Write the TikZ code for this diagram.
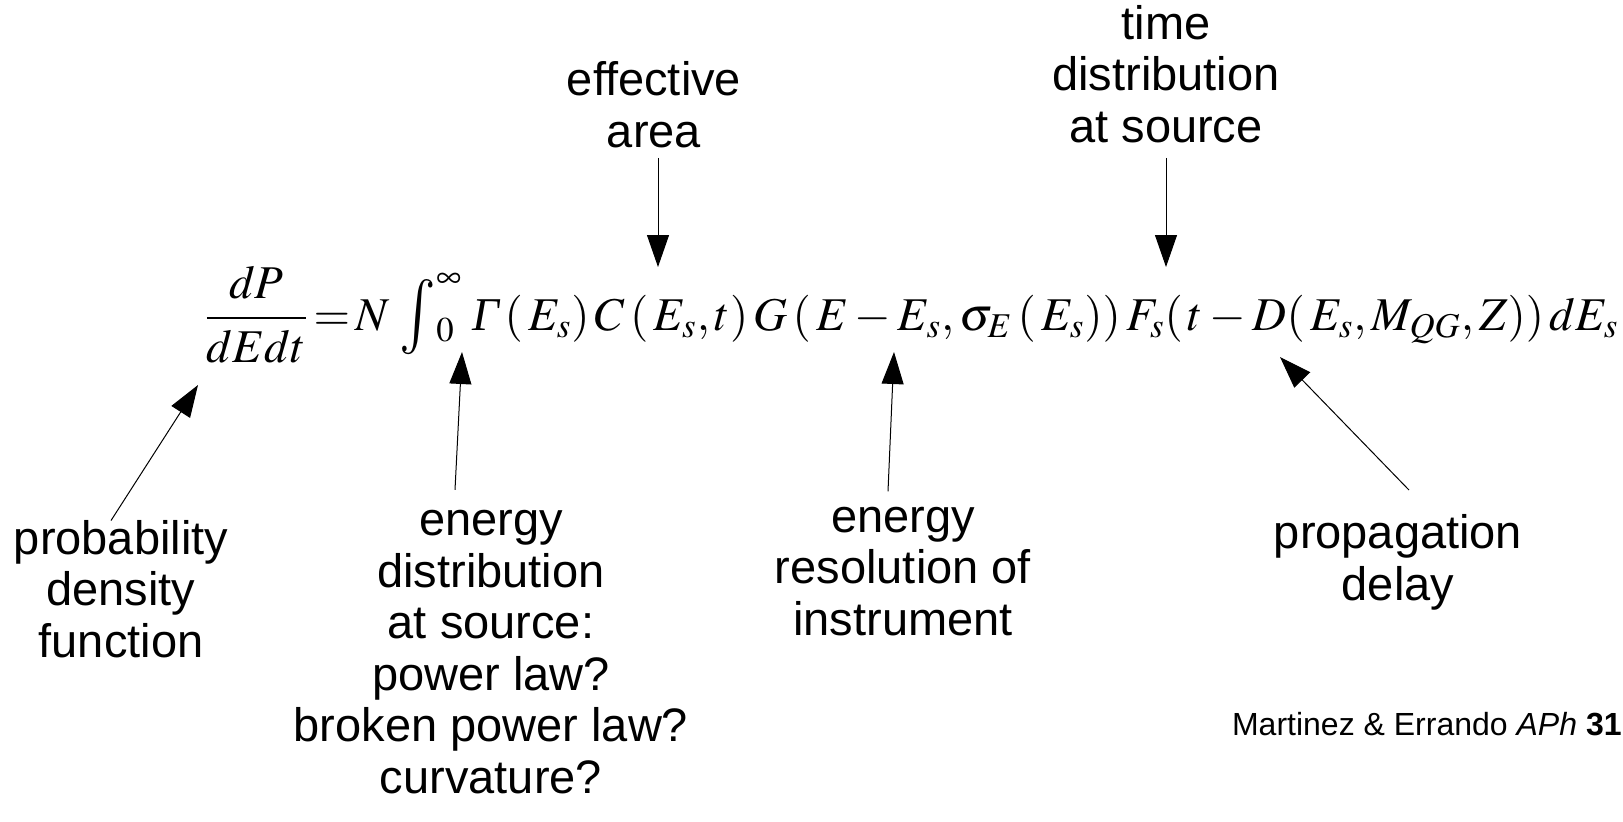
\documentclass[tikz,border=0pt]{standalone}
\usepackage{mathptmx}
\usepackage[no-math]{fontspec}
\setmainfont{Liberation Sans}
\newfontfamily\serifit{Liberation Serif}
\usetikzlibrary{arrows.meta}

\newcommand{\bigint}{\mathop{\raisebox{-0.12em}[\height][0pt]{\scalebox{1.3}[1.6]{$\textstyle\int$}}}\nolimits}

\begin{document}
\begin{tikzpicture}[
    x=0.5pt, y=-0.5pt,
    >={Triangle[width=11pt, length=16pt]},
    remark/.style={
      inner sep=0pt, anchor=base, align=center,
      font=\fontsize{23.5}{25.75}\selectfont},
    credit/.style={
      inner sep=0pt, anchor=base east,
      font=\fontsize{16}{20}\selectfont},
    formula/.style={
      inner sep=0pt, anchor=base west,
      font=\fontsize{23.5}{28}\selectfont},
    pointer/.style={->, line width=0.5pt},
]
\useasboundingbox (0,0) rectangle (1623,821);

% ---- the rate formula ----
\node[formula] (eq) at (204,330)
  {$\displaystyle\frac{dP}{dEdt}\!=\!N\,\bigint_0^\infty\,\mbox{\serifit\itshape Γ}\,(\,E_s)\,C\,(\,E_s,t)\,G\,(\,E-E_s,\sigma_E\,(\,E_s))\,F_s(\,t-D(\,E_s,M_{QG},Z))\,dE_s$};

% ---- where the pointers land ----
\coordinate (tEff)  at (658,267);
\coordinate (tTime) at (1166,267);
\coordinate (tProb) at (198,385);
\coordinate (tDist) at (462,352);
\coordinate (tRes)  at (894,352);
\coordinate (tProp) at (1280,357);

% ---- labels above (placed by their last line) ----
\node[remark] (rEff)  at (654,147) {effective\\area};
\node[remark] (rTime) at (1166,142) {time\\distribution\\at source};

% ---- labels below ----
\node[remark] (rProb) at (121,657) {probability\\density\\function};
\node[remark] (rDist) at (491,793)
  {energy\\distribution\\at source:\\power law?\\broken power law?\\curvature?};
\node[remark] (rRes)  at (903,635) {energy\\resolution of\\instrument};
\node[remark] (rProp) at (1398,600) {propagation\\delay};

\node[credit] (cite) at (1622,735) {Martinez \& Errando \textit{APh} \textbf{31}};

% ---- pointers ----
\draw[pointer] ([shift={(4,10)}]rEff.south)   -- (tEff);
\draw[pointer] ([shift={(0,15)}]rTime.south)  -- (tTime);
\draw[pointer] ([shift={(-10,1)}]rProb.north) -- (tProb);
\draw[pointer] ([shift={(-36,-20)}]rDist.north) -- (tDist);
\draw[pointer] ([shift={(-15,-15)}]rRes.north) -- (tRes);
\draw[pointer] ([shift={(11,-24)}]rProp.north) -- (tProp);

\end{tikzpicture}
\end{document}
